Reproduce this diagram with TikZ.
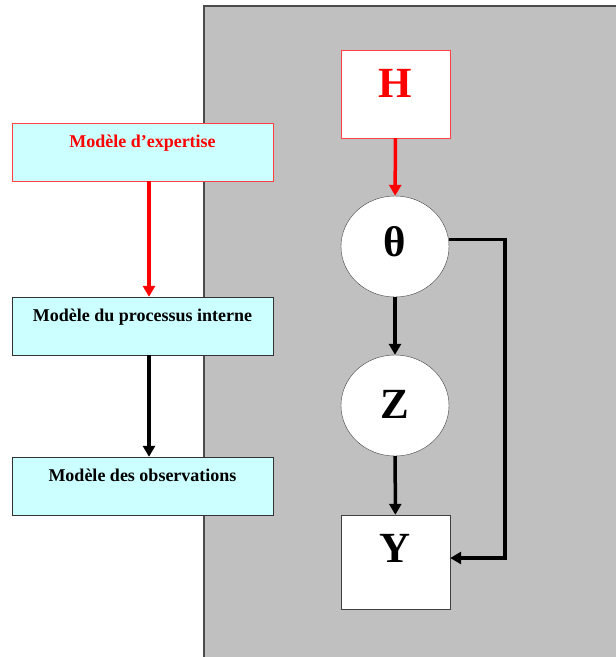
\documentclass[tikz,border=0pt]{standalone}
\usepackage{fontspec}
\setmainfont{Liberation Serif}
\usetikzlibrary{arrows.meta,shapes.geometric}
\definecolor{fond}{HTML}{C0C0C0}
\definecolor{cyanpale}{HTML}{CCFFFF}

\begin{document}
\begin{tikzpicture}
  [x=1pt,y=-1pt,
   modele/.style={rectangle,draw=black!80,fill=cyanpale,minimum width=261pt,minimum height=58pt,
     inner sep=0pt,font=\bfseries\fontsize{18}{21}\selectfont,text height=12pt,text depth=22pt},
   var/.style={draw=black!75,fill=white,inner sep=0pt,font=\bfseries\fontsize{43}{50}\selectfont,text height=29pt},
   fleche/.style={line width=3.5pt,-{Triangle[length=11pt,width=12pt]}}]
  \useasboundingbox (0,0) rectangle (616,657);
  \fill[fond] (204,6) rectangle (616,657);
  \draw[black!70,line width=1.5pt] (204,657) -- (204,6) -- (616,6);

  \node[modele,draw=red!75,text=red] (expertise) at (142.5,152) {Modèle d’expertise};
  \node[modele] (processus) at (142.5,326) {Modèle du processus interne};
  \node[modele] (observations) at (142.5,486) {Modèle des observations};

  \node[var,rectangle,draw=red!75,text=red,minimum width=109pt,minimum height=88pt,text depth=23pt] (H) at (395.5,94) {H};
  \node[var,ellipse,minimum width=108pt,minimum height=101pt,text depth=10pt] (theta) at (395,246.5) {θ};
  \node[var,ellipse,minimum width=108pt,minimum height=101pt,text depth=4pt] (Z) at (395,405.5) {Z};
  \node[var,rectangle,minimum width=109pt,minimum height=94pt,text depth=29pt] (Y) at (395.5,562) {Y};

  \draw[fleche,red] ([xshift=6.5pt]expertise.south) -- ([xshift=6.5pt]processus.north);
  \draw[fleche] ([xshift=6.5pt]processus.south) -- ([xshift=6.5pt]observations.north);
  \draw[fleche,red] (H) -- (theta);
  \draw[fleche] (theta) -- (Z);
  \draw[fleche] (Z) -- (Y);
  \draw[fleche] ([yshift=7pt]theta.east) -- ++(56,0) |- ([yshift=4pt]Y.east);
\end{tikzpicture}
\end{document}
